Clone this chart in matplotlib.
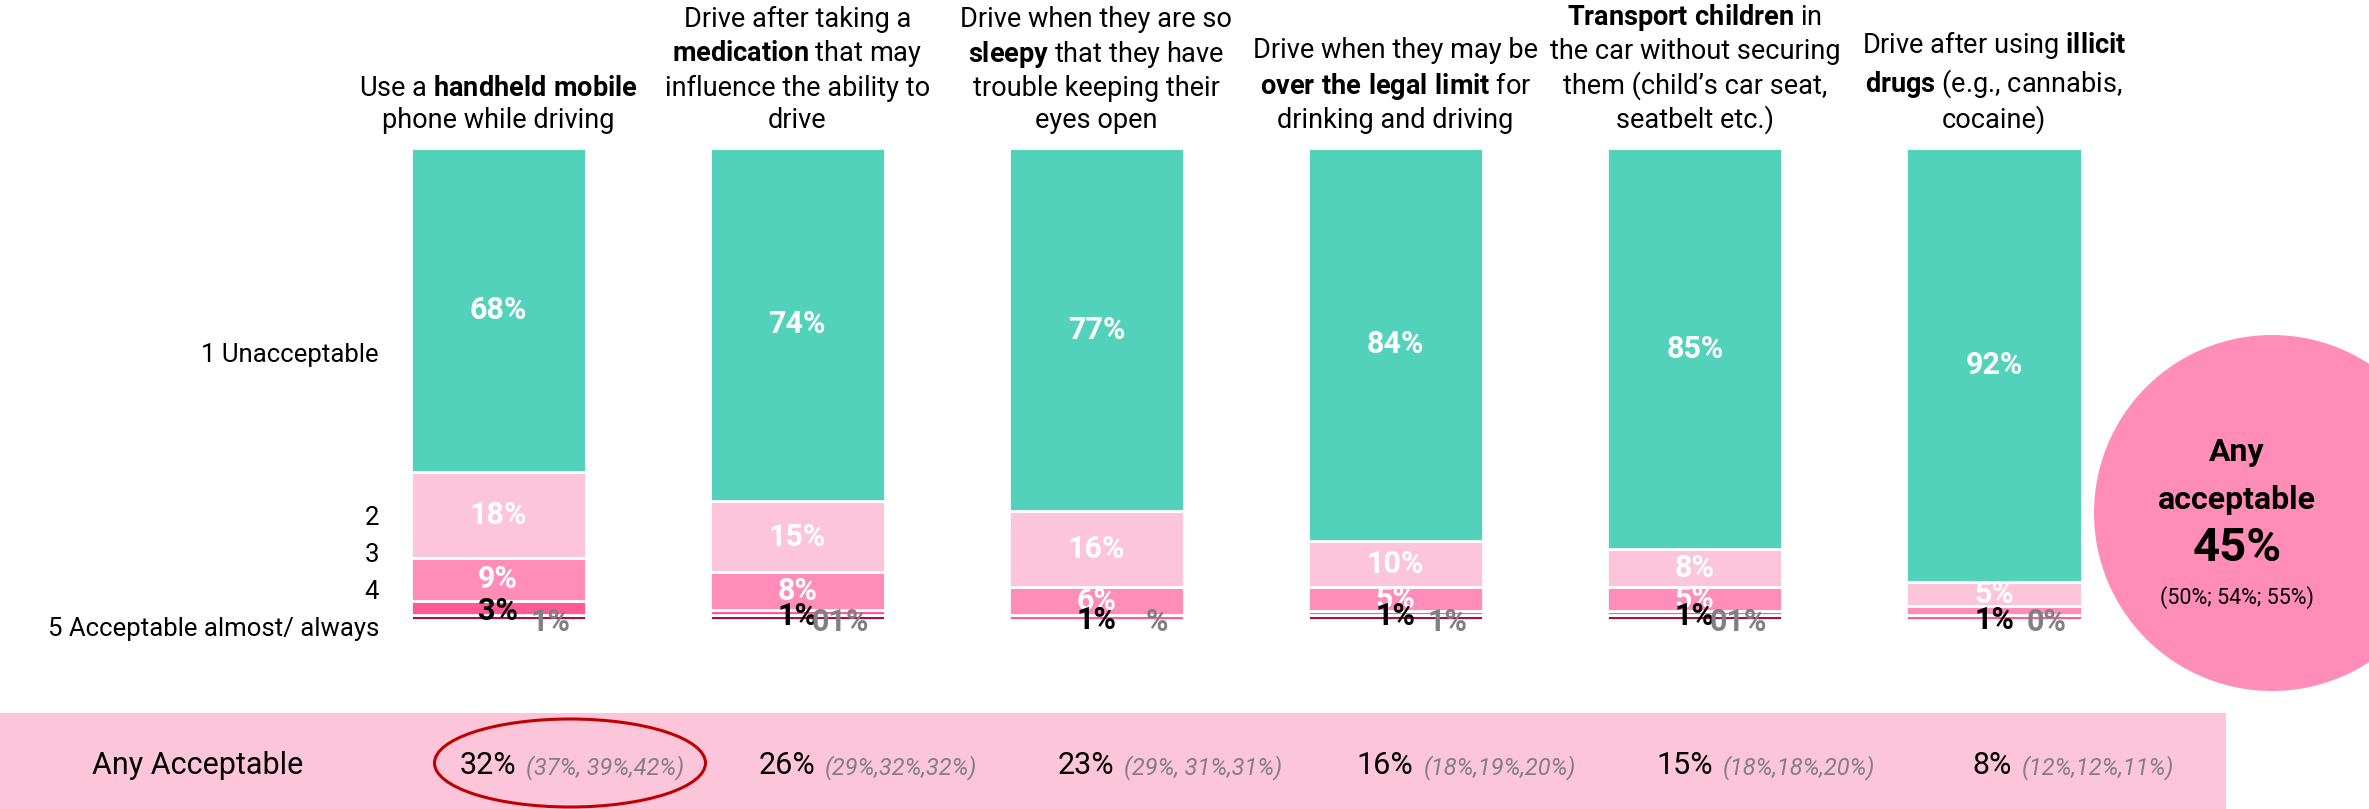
import matplotlib
matplotlib.use("Agg")
import matplotlib.pyplot as plt
from matplotlib.patches import Ellipse, Rectangle
import numpy as np

plt.rcParams["font.family"] = ["Roboto", "DejaVu Sans"]
plt.rcParams["mathtext.fontset"] = "custom"
plt.rcParams["mathtext.rm"] = "Roboto"
plt.rcParams["mathtext.bf"] = "Roboto:bold"
plt.rcParams["mathtext.it"] = "Roboto:italic"

# ---- data -------------------------------------------------------------
titles = [
    "Use a $\\mathbf{handheld\\ mobile}$\nphone while driving",
    "Drive after taking a\n$\\mathbf{medication}$ that may\ninfluence the ability to\ndrive",
    "Drive when they are so\n$\\mathbf{sleepy}$ that they have\ntrouble keeping their\neyes open",
    "Drive when they may be\n$\\mathbf{over\\ the\\ legal\\ limit}$ for\ndrinking and driving",
    "$\\mathbf{Transport\\ children}$ in\nthe car without securing\nthem (child\u2019s car seat,\nseatbelt etc.)",
    "Drive after using $\\mathbf{illicit}$\n$\\mathbf{drugs}$ (e.g., cannabis,\ncocaine)",
]
lvl1 = [68, 74, 77, 84, 85, 92]   # 1 Unacceptable
lvl2 = [18, 15, 16, 10, 8, 5]
lvl3 = [9, 8, 6, 5, 5, 2]
lvl4 = [3, 1, 1, 1, 1, 1]
lvl5 = [1, 1, 0, 1, 1, 0]         # 5 Acceptable almost/ always
lvl5_labels = ["1%", "01%", "%", "1%", "01%", "0%"]

level_names = ["1 Unacceptable", "2", "3", "4", "5 Acceptable almost/ always"]

any_pct = [32, 26, 23, 16, 15, 8]
any_prev = ["(37%, 39%,42%)", "(29%,32%,32%)", "(29%, 31%,31%)",
            "(18%,19%,20%)", "(18%,18%,20%)", "(12%,12%,11%)"]

total_any = 45
total_prev = "(50%; 54%; 55%)"

# ---- styling ------------------------------------------------------------
TEAL = "#52D1BB"
PINK_LIGHT = "#FDC5DA"
PINK_MID = "#FF8DB8"
PINK_HOT = "#FF5996"
MAROON = "#A4104A"
GREY = "#808080"

FIG_W, FIG_H = 2369, 809
X0_PX, STEP_PX = 498, 299.2      # first bar centre, bar spacing
BASE_PX, UNIT_PX = 620, 4.72     # pixel row of 0 %, pixels per %


def dx(px):
    return (px - X0_PX) / STEP_PX


def dy(py):
    return (BASE_PX - py) / UNIT_PX


fig = plt.figure(figsize=(FIG_W / 100, FIG_H / 100), dpi=100, facecolor="white")
ax = fig.add_axes([0, 0, 1, 1])
ax.set_xlim(dx(0), dx(FIG_W))
ax.set_ylim(dy(FIG_H), dy(0))
ax.axis("off")

# bottom band
ax.add_patch(Rectangle((dx(0), dy(FIG_H)), dx(2226) - dx(0), dy(713) - dy(FIG_H),
                       facecolor=PINK_LIGHT, edgecolor="none", zorder=0))

# stacked bars, normalised to 100 %
x = np.arange(len(lvl1))
stack = np.array([lvl5, lvl4, lvl3, lvl2, lvl1], dtype=float)
stack = stack / stack.sum(axis=0) * 100
colors = [MAROON, PINK_HOT, PINK_MID, PINK_LIGHT, TEAL]
bar_w = 175 / STEP_PX
bottoms = np.zeros(len(x))
for vals, col in zip(stack, colors):
    ax.bar(x, vals, bottom=bottoms, width=bar_w, color=col,
           edgecolor="white", linewidth=2.0, zorder=2)
    bottoms += vals

# segment labels
for i in range(len(x)):
    b5, b4, b3, b2, b1 = np.concatenate([[0], np.cumsum(stack[:, i])])[:5]
    for raw, bot, h in ((lvl1[i], b1, stack[4, i]),
                        (lvl2[i], b2, stack[3, i]),
                        (lvl3[i], b3, stack[2, i])):
        if raw >= 5:
            ax.text(i, bot + h / 2, f"{raw}%", ha="center", va="center",
                    color="white", fontsize=22, fontweight="bold", zorder=4)
    ax.text(i, b4 + stack[1, i] / 2 - 0.6, f"{lvl4[i]}%", ha="center", va="center",
            color="black", fontsize=22, fontweight="bold", zorder=5)
    ax.text(i + 72 / STEP_PX, dy(622), lvl5_labels[i], ha="right", va="center",
            color=GREY, fontsize=22, fontweight="bold", zorder=5)

# column titles
for i, t in enumerate(titles):
    ax.text(i, dy(134), t, ha="center", va="bottom", fontsize=19.5,
            linespacing=1.25, color="black", zorder=4)

# level labels at left
for name, py in zip(level_names, [355, 518, 555, 592, 629]):
    ax.text(dx(379), dy(py), name, ha="right", va="center", fontsize=18.5,
            color="black")

# "Any Acceptable" row
ax.text(dx(198), dy(766), "Any Acceptable", ha="center", va="center",
        fontsize=22, color="black", zorder=3)
for i, (v, prev) in enumerate(zip(any_pct, any_prev)):
    ax.text(i + 18 / STEP_PX, dy(766), f"{v}%", ha="right", va="center",
            fontsize=22, color="black", zorder=3)
    ax.text(i + 28 / STEP_PX, dy(768), prev, ha="left", va="center",
            fontsize=17, style="italic", color=GREY, zorder=3)

ax.add_patch(Ellipse((dx(570), dy(763)), 271 / STEP_PX, 88 / UNIT_PX,
                     fill=False, edgecolor="#C00000", linewidth=2.2, zorder=3))

# summary circle
ax.add_patch(Ellipse((dx(2272), dy(513)), 356 / STEP_PX, 356 / UNIT_PX,
                     facecolor=PINK_MID, edgecolor="none", zorder=1))
cx = dx(2237)
ax.text(cx, dy(452), "Any", ha="center", va="center", fontsize=23,
        fontweight="bold", color="black", zorder=4)
ax.text(cx, dy(500), "acceptable", ha="center", va="center", fontsize=23,
        fontweight="bold", color="black", zorder=4)
ax.text(cx, dy(548), f"{total_any}%", ha="center", va="center", fontsize=34,
        fontweight="bold", color="black", zorder=4)
ax.text(cx, dy(598), total_prev, ha="center", va="center", fontsize=15.5,
        color="black", zorder=4)

fig.savefig("out.png", dpi=100, facecolor="white")
